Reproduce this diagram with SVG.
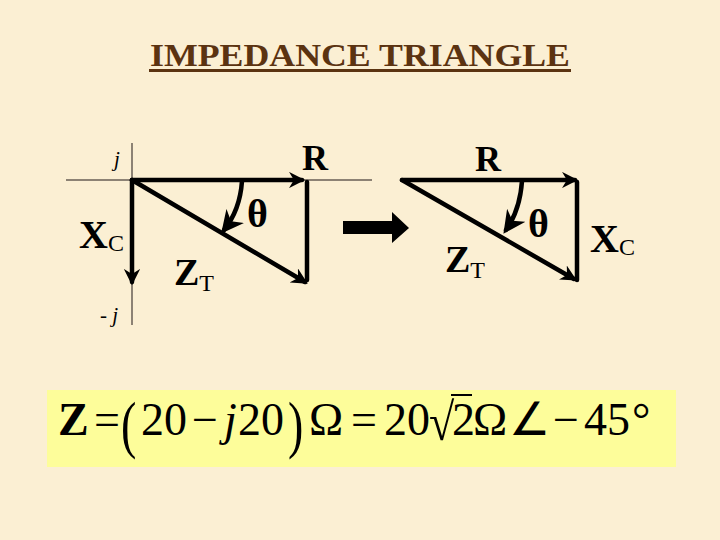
<svg xmlns="http://www.w3.org/2000/svg" width="720" height="540" viewBox="0 0 720 540">
<defs>
<style>
.ax{stroke:#8c8274;stroke-width:2;fill:none}
.ln{stroke:#000;stroke-width:4.5;fill:none;stroke-linecap:round}
.lbl{font-family:"Liberation Serif",serif;font-weight:bold;fill:#000}
.th{font-family:"Liberation Serif",serif;font-weight:bold;font-size:40px;fill:#000}
.sub{font-family:"Liberation Serif",serif;font-weight:normal;fill:#000}
.eq{font-family:"Liberation Serif",serif;font-size:46px;fill:#000}
.it{font-family:"Liberation Serif",serif;font-style:italic;font-size:21px;fill:#000}
</style>
<marker id="ah" viewBox="0 0 10 10" refX="8" refY="5" markerWidth="3.6" markerHeight="3.6" orient="auto" markerUnits="strokeWidth">
<path d="M0,0 L10,5 L0,10 L3,5 Z" fill="#000"/>
</marker>
<marker id="ah2" viewBox="0 0 10 10" refX="8" refY="5" markerWidth="5" markerHeight="5" orient="auto" markerUnits="strokeWidth">
<path d="M0,0 L10,5 L0,10 L3,5 Z" fill="#000"/>
</marker>
</defs>
<rect width="720" height="540" fill="#fbefd3"/>

<g id="title">
<text x="360" y="66" text-anchor="middle" font-family="Liberation Serif,serif" font-weight="bold" font-size="32" fill="#5b3311" textLength="420" lengthAdjust="spacingAndGlyphs">IMPEDANCE TRIANGLE</text>
<rect x="149" y="69" width="422" height="3" fill="#5b3311"/>
</g>

<g id="axes">
<line class="ax" x1="66" y1="180" x2="372" y2="180"/>
<line class="ax" x1="132" y1="143" x2="132" y2="325"/>
</g>

<g id="connectors">
<line class="ln" x1="132" y1="180" x2="302" y2="180" marker-end="url(#ah)"/>
<line class="ln" x1="132" y1="180" x2="132" y2="282" marker-end="url(#ah)"/>
<line class="ln" x1="307" y1="182" x2="307" y2="280"/>
<line class="ln" x1="132" y1="180" x2="305" y2="282" marker-end="url(#ah)"/>
<path class="ln" d="M242,181 Q240,210 224,230" stroke-width="3" marker-end="url(#ah2)"/>
<line class="ln" x1="402" y1="180" x2="575" y2="180" marker-end="url(#ah)"/>
<line class="ln" x1="577" y1="182" x2="577" y2="280"/>
<line class="ln" x1="402" y1="180" x2="574" y2="279" marker-end="url(#ah)"/>
<path class="ln" d="M522,181 Q520,210 506,230" stroke-width="3" marker-end="url(#ah2)"/>
<path d="M343,221 H392 V212 L409,228 L392,243 V234 H343 Z" fill="#000"/>
</g>

<g id="left-labels">
<text x="114" y="166" class="it">j</text>
<text x="302" y="170" class="lbl" font-size="36">R</text>
<text x="247" y="227" class="th">θ</text>
<text x="79" y="248" class="lbl" font-size="40">X<tspan class="sub" font-size="24" dy="3">C</tspan></text>
<text x="174" y="285" class="lbl" font-size="38">Z<tspan class="sub" font-size="24" dy="6">T</tspan></text>
<text x="100" y="322" class="it">- j</text>
</g>

<g id="right-labels">
<text x="475" y="171" class="lbl" font-size="36">R</text>
<text x="528" y="237" class="th">θ</text>
<text x="590" y="252" class="lbl" font-size="40">X<tspan class="sub" font-size="24" dy="3">C</tspan></text>
<text x="445" y="272" class="lbl" font-size="38">Z<tspan class="sub" font-size="24" dy="6">T</tspan></text>
</g>

<g id="formula">
<rect x="47" y="390" width="629" height="77" fill="#fdfd9a"/>
<text class="eq" y="435">
<tspan x="58" font-weight="bold">Z</tspan>
<tspan x="94">=</tspan>
</text>
<text class="eq" transform="translate(121,446) scale(1,1.4)">(</text>
<text class="eq" y="435">
<tspan x="141">20</tspan>
<tspan x="192">−</tspan>
<tspan x="224" font-style="italic">j</tspan>
<tspan x="238">20</tspan>
</text>
<text class="eq" transform="translate(288,446) scale(1,1.4)">)</text>
<text class="eq" y="435">
<tspan x="309">Ω</tspan>
<tspan x="351">=</tspan>
<tspan x="384">20</tspan>
</text>
<text class="eq" transform="translate(429,440) scale(1,1.15)">√</text>
<line x1="451" y1="395" x2="472" y2="395" stroke="#000" stroke-width="2"/>
<text class="eq" y="435">
<tspan x="452">2</tspan>
<tspan x="473">Ω</tspan>
<tspan x="509">∠</tspan>
<tspan x="553">−</tspan>
<tspan x="584">45</tspan>
<tspan x="632">°</tspan>
</text>
</g>
</svg>
